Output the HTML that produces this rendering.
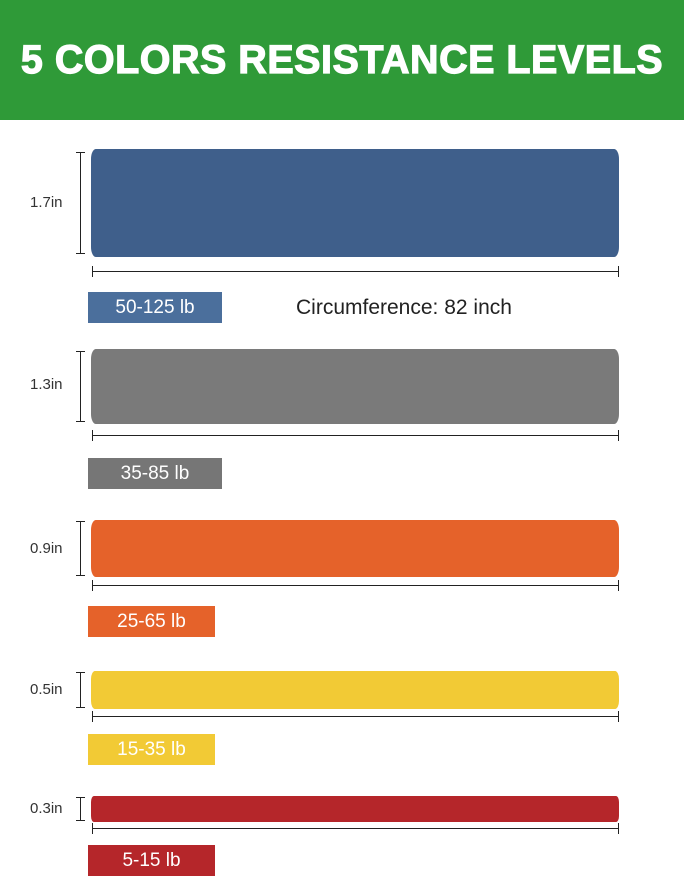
<!DOCTYPE html><html><head><style>
body{margin:0;width:684px;height:879px;background:#fff;position:relative;overflow:hidden;font-family:"Liberation Sans",sans-serif}
.h{position:absolute;left:0;top:0;width:684px;height:120px;background:#2f9a38;color:#fff;font-weight:900;font-size:39.5px;text-align:center;line-height:120px;letter-spacing:0.5px;-webkit-text-stroke:1.2px #fff}
.b{position:absolute;left:91px;width:528px;border-radius:5px 5px 5px 5px/10px 10px 10px 10px}
.v{position:absolute;left:80px;width:1px;background:#222}
.v:before,.v:after{content:"";position:absolute;left:-4px;width:9px;height:1px;background:#222}
.v:before{top:0}.v:after{bottom:0}
.hl{position:absolute;left:92px;width:527px;height:1px;background:#222}
.hl:before,.hl:after{content:"";position:absolute;top:-5px;width:1px;height:11px;background:#222}
.hl:before{left:0}.hl:after{right:0}
.t{position:absolute;left:30px;font-size:15px;color:#333}
.l{position:absolute;left:88px;color:#fff;font-size:19px;text-align:center;line-height:31px;height:31px}
</style></head><body>
<div class="h">5 COLORS RESISTANCE LEVELS</div>
<div class="b" style="top:149px;height:108px;background:#3f5f8b"></div>
<div class="v" style="top:152px;height:102px"></div><div class="t" style="top:194px">1.7in</div>
<div class="hl" style="top:271px"></div>
<div class="l" style="top:292px;width:134px;background:#4b6f9c">50-125 lb</div>
<div style="position:absolute;left:296px;top:296px;font-size:21px;color:#222">Circumference: 82 inch</div>
<div class="b" style="top:349px;height:75px;background:#7a7a7a"></div>
<div class="v" style="top:351px;height:71px"></div><div class="t" style="top:376px">1.3in</div>
<div class="hl" style="top:435px"></div>
<div class="l" style="top:458px;width:134px;background:#767676">35-85 lb</div>
<div class="b" style="top:520px;height:57px;background:#e5622a"></div>
<div class="v" style="top:521px;height:55px"></div><div class="t" style="top:540px;left:30px">0.9in</div>
<div class="hl" style="top:585px"></div>
<div class="l" style="top:606px;width:127px;background:#e5622a">25-65 lb</div>
<div class="b" style="top:671px;height:38px;background:#f2ca35;border-radius:4px/8px"></div>
<div class="v" style="top:672px;height:36px"></div><div class="t" style="top:681px">0.5in</div>
<div class="hl" style="top:716px"></div>
<div class="l" style="top:734px;width:127px;background:#f2ca35">15-35 lb</div>
<div class="b" style="top:796px;height:26px;background:#b5262a;border-radius:3px/6px"></div>
<div class="v" style="top:797px;height:24px"></div><div class="t" style="top:800px">0.3in</div>
<div class="hl" style="top:828px"></div>
<div class="l" style="top:845px;width:127px;background:#b5262a">5-15 lb</div>
</body></html>
